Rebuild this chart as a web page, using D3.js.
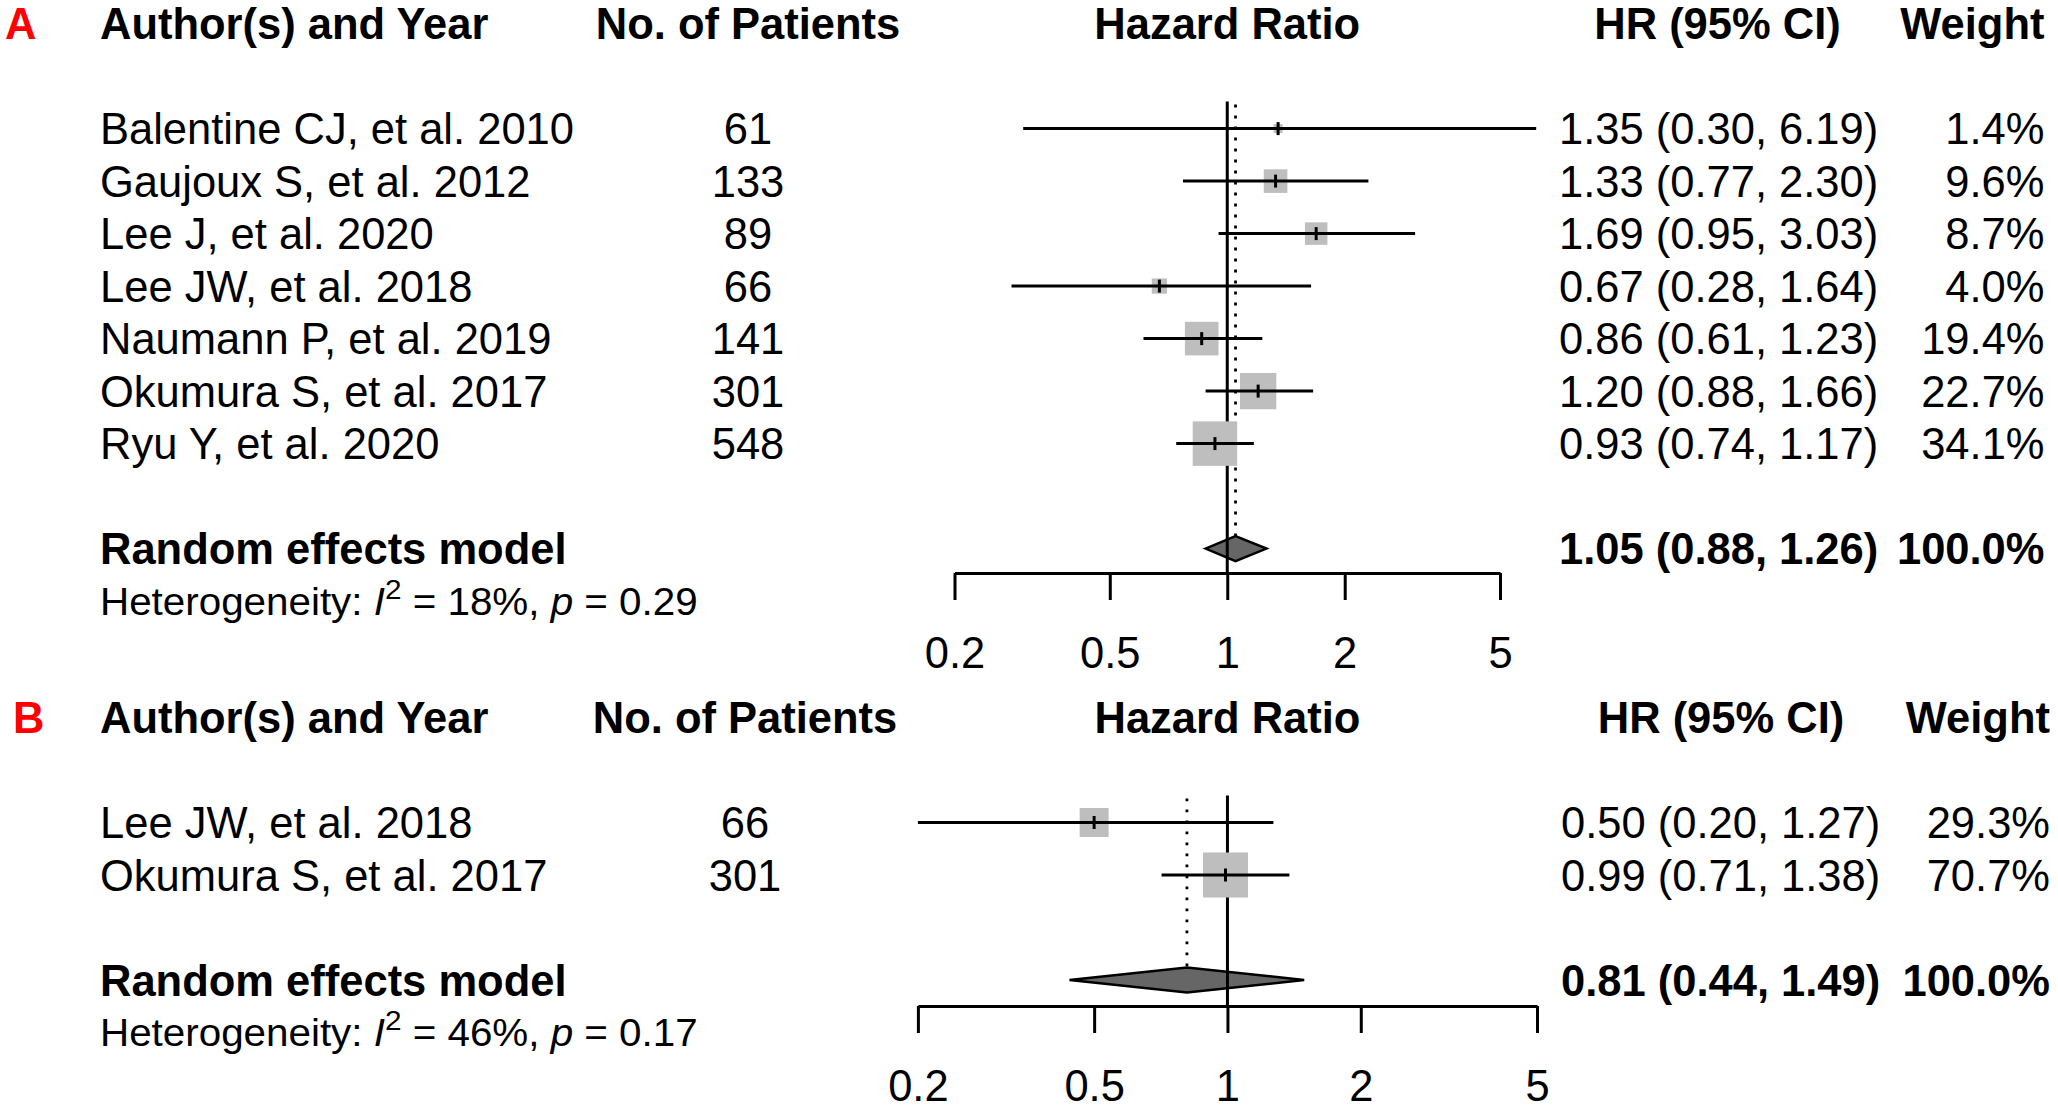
<!DOCTYPE html>
<html><head><meta charset="utf-8">
<script src="https://cdn.jsdelivr.net/npm/d3@7"></script>
<style>
html,body{margin:0;padding:0;background:#fff;}
svg{display:block;}
text{font-family:"Liberation Sans",Arial,Helvetica,sans-serif;fill:#000;}
</style></head><body>
<svg id="chart" width="2058" height="1109"></svg>
<script>
// ---------- data ----------
const headers = ["Author(s) and Year", "No. of Patients", "Hazard Ratio", "HR (95% CI)", "Weight"];
const panelLabels = ["A", "B"];
const pooledLabel = "Random effects model";
const tickValues = [0.2, 0.5, 1, 2, 5];

const studiesA = ["Balentine CJ, et al. 2010", "Gaujoux S, et al. 2012", "Lee J, et al. 2020",
  "Lee JW, et al. 2018", "Naumann P, et al. 2019", "Okumura S, et al. 2017", "Ryu Y, et al. 2020"];
const patientsA = [61, 133, 89, 66, 141, 301, 548];
const hrA = [1.35, 1.33, 1.69, 0.67, 0.86, 1.20, 0.93];
const lowerA = [0.30, 0.77, 0.95, 0.28, 0.61, 0.88, 0.74];
const upperA = [6.19, 2.30, 3.03, 1.64, 1.23, 1.66, 1.17];
const weightA = [1.4, 9.6, 8.7, 4.0, 19.4, 22.7, 34.1];
const pooledA = [1.05, 0.88, 1.26];
const hetA = ["18%", "0.29"];

const studiesB = ["Lee JW, et al. 2018", "Okumura S, et al. 2017"];
const patientsB = [66, 301];
const hrB = [0.50, 0.99];
const lowerB = [0.20, 0.71];
const upperB = [1.27, 1.38];
const weightB = [29.3, 70.7];
const pooledB = [0.81, 0.44, 1.49];
const hetB = ["46%", "0.17"];

// ---------- layout ----------
const FS = 43.5, ROW = 52.5, LW = 3;
const layouts = [
  {labelX: 5, xRange: [954.5, 1500], y0: 128.6, axisY: 573, colN: 748, hrStart: 1559, hrHead: 1717.5, wRight: 2044.5, maxBox: 44.5},
  {labelX: 13, xRange: [917.9, 1537], y0: 822.5, axisY: 1006, colN: 745, hrStart: 1561, hrHead: 1721, wRight: 2050, maxBox: 45}
];
const panels = [
  {studies: studiesA, n: patientsA, hr: hrA, lo: lowerA, hi: upperA, w: weightA, pooled: pooledA, het: hetA},
  {studies: studiesB, n: patientsB, hr: hrB, lo: lowerB, hi: upperB, w: weightB, pooled: pooledB, het: hetB}
];

const svg = d3.select("#chart");
svg.append("rect").attr("width", 2058).attr("height", 1109).attr("fill", "#fff");
const f2 = d3.format(".2f"), f1 = d3.format(".1f");
const ci = (h, l, u) => `${f2(h)} (${f2(l)}, ${f2(u)})`;
const base = yc => yc + 0.358 * FS;

panels.forEach((p, pi) => {
  const L = layouts[pi];
  const g = svg.append("g");
  const k = p.studies.length;
  const x = d3.scaleLog().domain([tickValues[0], tickValues[tickValues.length - 1]]).range(L.xRange);
  const y = d3.scaleLinear().domain([0, 1]).range([L.y0, L.y0 + ROW]);
  const box = d3.scaleSqrt().domain([0, d3.max(p.w)]).range([0, L.maxBox]);
  const yPool = y(k + 1), yHet = y(k + 2), yHead = y(-2);
  const dH = 12.5;

  // panel label
  g.append("text").attr("x", L.labelX).attr("y", base(yHead)).attr("font-size", FS)
    .attr("font-weight", "bold").style("fill", "#ff0000").text(panelLabels[pi]);
  // headers
  const hx = [[100, "start"], [L.colN, "middle"], [x(1), "middle"], [L.hrHead, "middle"], [L.wRight, "end"]];
  headers.forEach((h, i) => g.append("text").attr("x", hx[i][0]).attr("y", base(yHead))
    .attr("text-anchor", hx[i][1]).attr("font-size", FS).attr("font-weight", "bold").text(h));

  // study rows text
  p.studies.forEach((s, i) => {
    const yb = base(y(i));
    g.append("text").attr("x", 100).attr("y", yb).attr("font-size", FS).text(s);
    g.append("text").attr("x", L.colN).attr("y", yb).attr("text-anchor", "middle").attr("font-size", FS).text(p.n[i]);
    g.append("text").attr("x", L.hrStart).attr("y", yb).attr("font-size", FS).text(ci(p.hr[i], p.lo[i], p.hi[i]));
    g.append("text").attr("x", L.wRight).attr("y", yb).attr("text-anchor", "end").attr("font-size", FS).text(f1(p.w[i]) + "%");
  });
  // pooled row text
  g.append("text").attr("x", 100).attr("y", base(yPool)).attr("font-size", FS).attr("font-weight", "bold").text(pooledLabel);
  g.append("text").attr("x", L.hrStart).attr("y", base(yPool)).attr("font-size", FS).attr("font-weight", "bold")
    .text(ci(p.pooled[0], p.pooled[1], p.pooled[2]));
  g.append("text").attr("x", L.wRight).attr("y", base(yPool)).attr("text-anchor", "end").attr("font-size", FS)
    .attr("font-weight", "bold").text(f1(100) + "%");

  // heterogeneity
  const HFS = 38;
  const het = g.append("text").attr("font-size", HFS);
  het.append("tspan").text("Heterogeneity: ");
  het.append("tspan").attr("font-style", "italic").text("I");
  het.append("tspan").attr("font-size", 28).attr("dy", -16).text("2");
  het.append("tspan").attr("dy", 16).text(" = " + p.het[0] + ", ");
  het.append("tspan").attr("font-style", "italic").text("p");
  het.append("tspan").text(" = " + p.het[1]);
  const wNat = het.node().getComputedTextLength();
  het.attr("transform", `translate(100,${yHet + 13.6}) scale(${598 / wNat},1)`);

  // dotted pooled line
  g.append("line").attr("x1", x(p.pooled[0])).attr("x2", x(p.pooled[0]))
    .attr("y1", y(0) - 24).attr("y2", yPool - dH)
    .attr("stroke", "#000").attr("stroke-width", 2.8).attr("stroke-dasharray", "2.8 8.2");

  // diamond
  g.append("path")
    .attr("d", `M${x(p.pooled[1])},${yPool}L${x(p.pooled[0])},${yPool - dH}L${x(p.pooled[2])},${yPool}L${x(p.pooled[0])},${yPool + dH}Z`)
    .attr("fill", "#666666").attr("stroke", "#000").attr("stroke-width", 2.5);

  // reference line at 1
  g.append("line").attr("x1", x(1)).attr("x2", x(1)).attr("y1", y(0) - 27).attr("y2", L.axisY)
    .attr("stroke", "#000").attr("stroke-width", LW);

  // boxes
  p.hr.forEach((h, i) => {
    const s = box(p.w[i]);
    g.append("rect").attr("x", x(h) - s / 2).attr("y", y(i) - s / 2).attr("width", s).attr("height", s)
      .attr("fill", "#bebebe");
  });
  // CI lines and estimate ticks
  p.hr.forEach((h, i) => {
    g.append("line").attr("x1", x(p.lo[i])).attr("x2", x(p.hi[i])).attr("y1", y(i)).attr("y2", y(i))
      .attr("stroke", "#000").attr("stroke-width", LW);
    g.append("line").attr("x1", x(h)).attr("x2", x(h)).attr("y1", y(i) - 6.5).attr("y2", y(i) + 6.5)
      .attr("stroke", "#000").attr("stroke-width", LW);
  });

  // axis
  const axis = d3.axisBottom(x).tickValues(tickValues).tickFormat(d => String(d))
    .tickSize(27).tickSizeOuter(0).tickPadding(37.5);
  const ag = g.append("g").attr("transform", `translate(0,${L.axisY})`).call(axis);
  ag.attr("font-size", FS).attr("font-family", null);
  ag.selectAll("path,line").attr("stroke", "#000").attr("stroke-width", LW);
  ag.selectAll("text").attr("fill", "#000");
});
</script>
</body></html>
